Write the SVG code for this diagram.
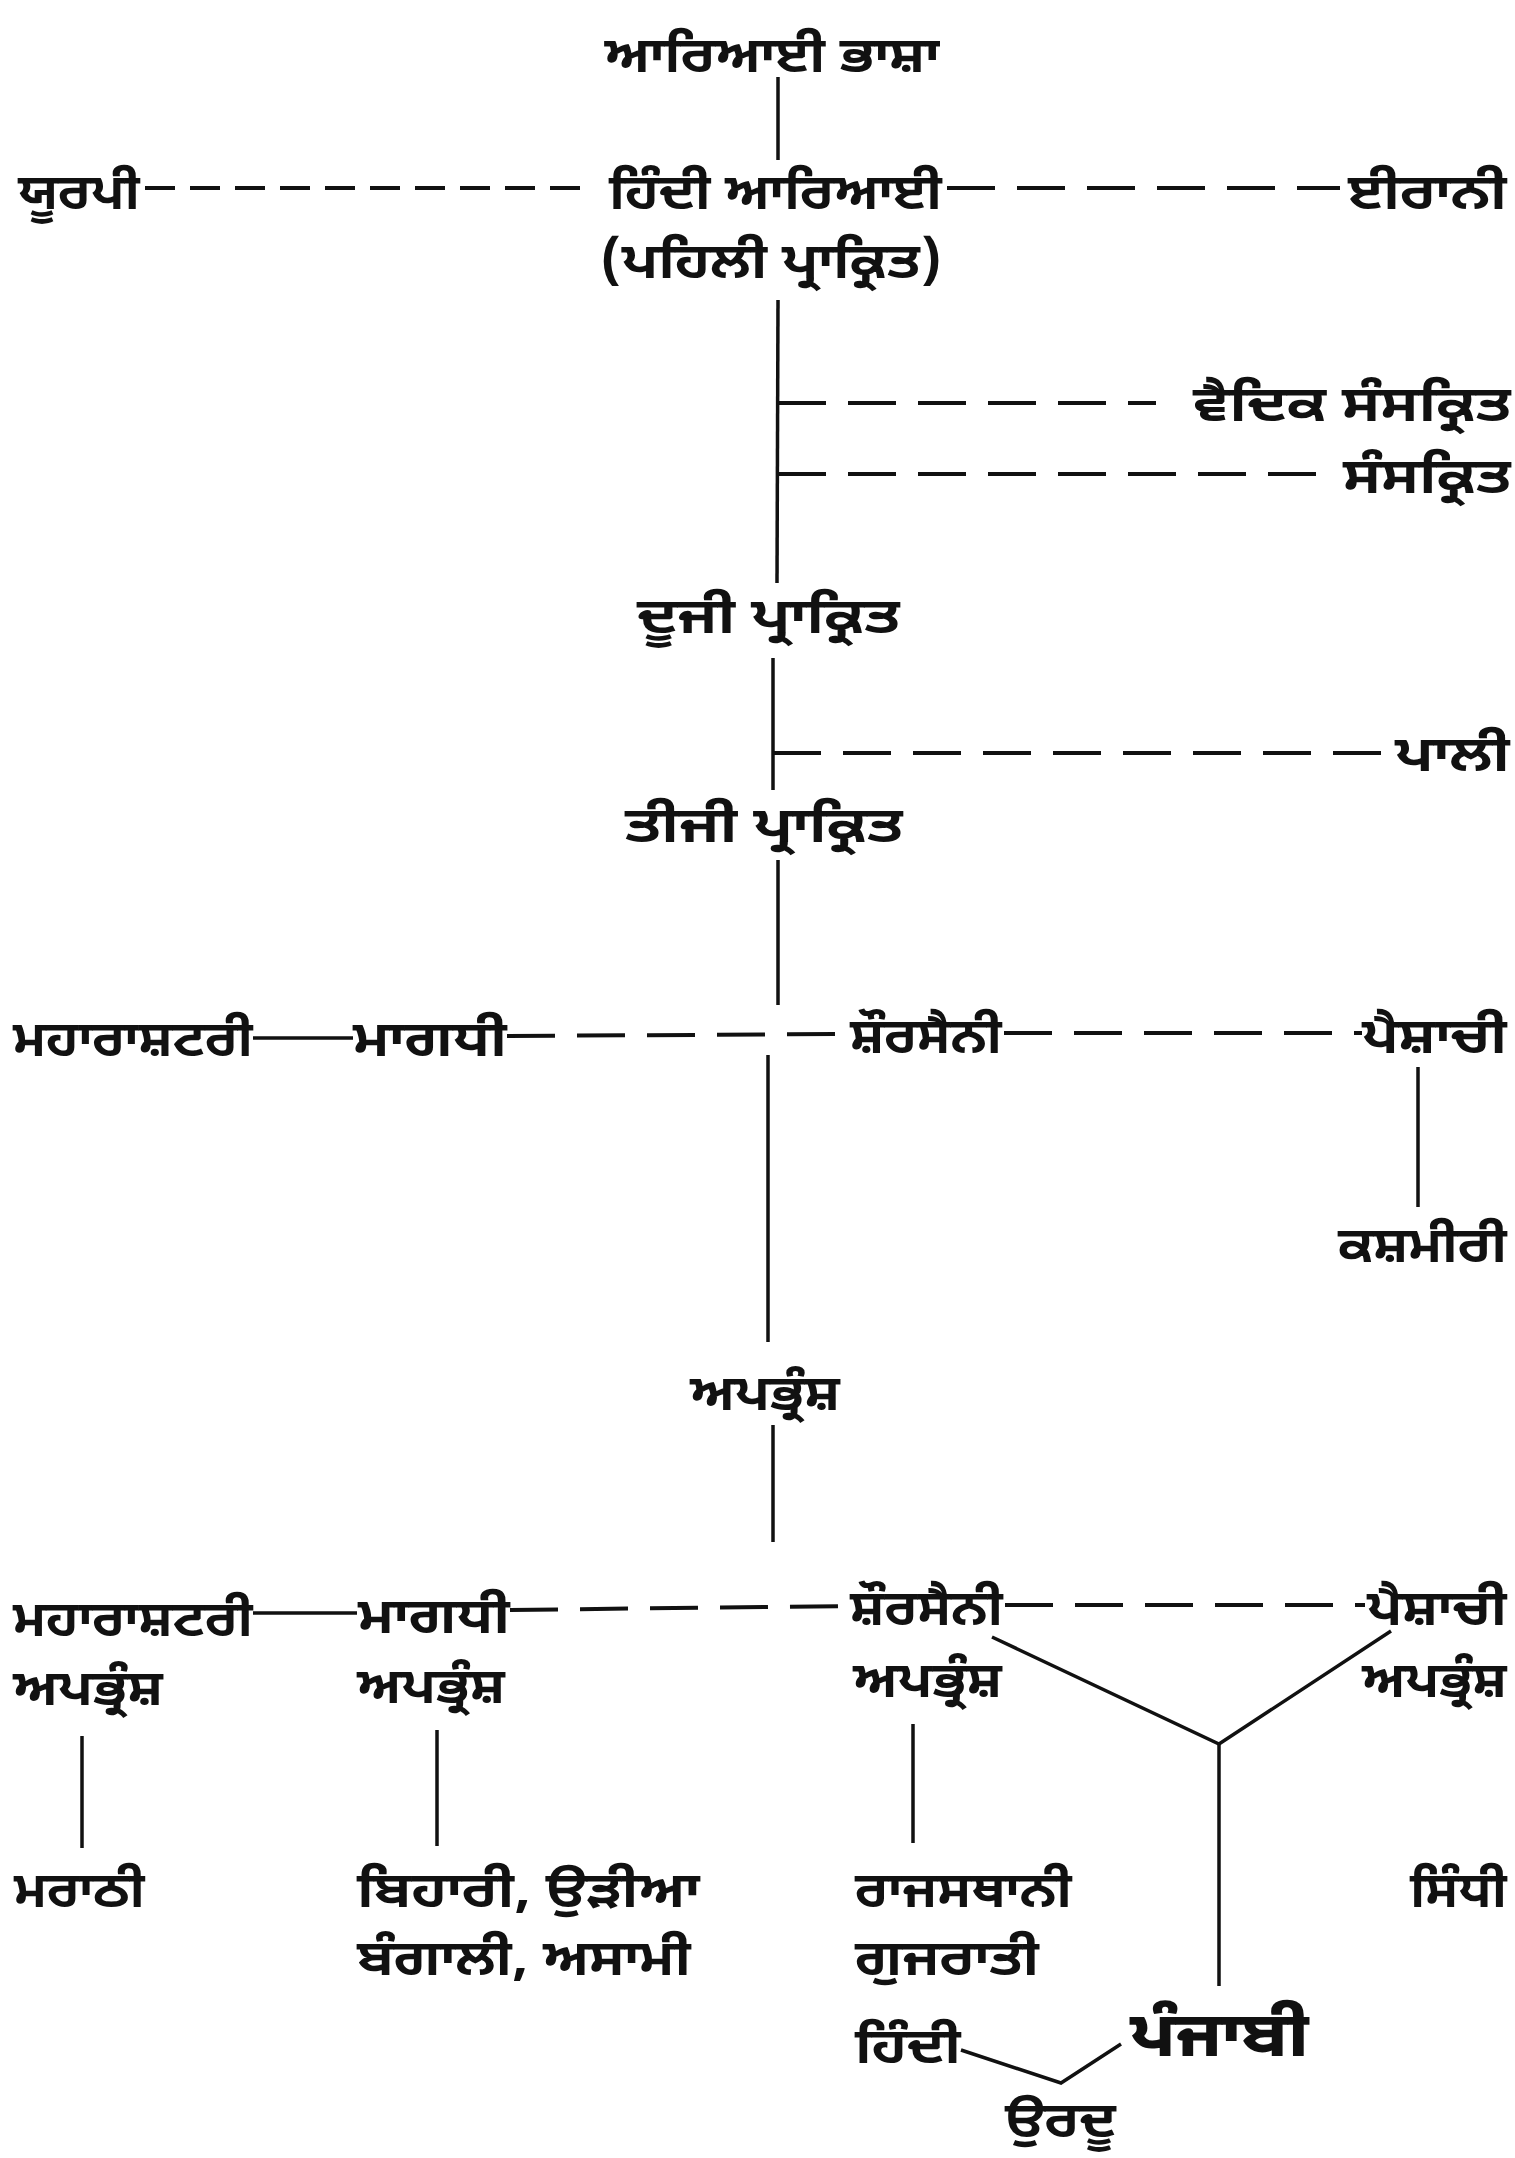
<svg xmlns="http://www.w3.org/2000/svg" width="1515" height="2158" viewBox="0 0 1515 2158">
<style>
text{font-family:"Noto Sans Gurmukhi","Noto Sans",sans-serif;font-size:50px;font-weight:700;fill:#111;dominant-baseline:central}
.m{text-anchor:middle}
.e{text-anchor:end}
.big{font-size:62px;font-weight:800}
.s{stroke:#111;stroke-width:3.5;fill:none}
.d{stroke:#111;stroke-width:4;fill:none;stroke-dasharray:48 22}
.d2{stroke:#111;stroke-width:4;fill:none;stroke-dasharray:30 15}
</style>
<rect width="1515" height="2158" fill="#fff"/>
<g id="connectors">
<line class="s" x1="778" y1="77" x2="778" y2="160"/>
<line class="d2" x1="145" y1="188" x2="592" y2="188"/>
<line class="d" x1="947" y1="188" x2="1340" y2="188"/>
<line class="s" x1="778" y1="300" x2="777" y2="583"/>
<line class="d" x1="778" y1="403" x2="1156" y2="403"/>
<line class="d" x1="778" y1="474" x2="1326" y2="474"/>
<line class="s" x1="773" y1="658" x2="773" y2="790"/>
<line class="d" x1="773" y1="753" x2="1390" y2="753"/>
<line class="s" x1="778" y1="860" x2="778" y2="1005"/>
<line class="s" x1="768" y1="1055" x2="768" y2="1342"/>
<line class="s" x1="253" y1="1038" x2="353" y2="1038"/>
<line class="d" x1="507" y1="1036" x2="850" y2="1034"/>
<line class="d" x1="1004" y1="1033" x2="1362" y2="1033"/>
<line class="s" x1="1418" y1="1067" x2="1418" y2="1207"/>
<line class="s" x1="773" y1="1425" x2="773" y2="1542"/>
<line class="s" x1="253" y1="1613" x2="357" y2="1613"/>
<line class="d" x1="510" y1="1610" x2="850" y2="1606"/>
<line class="d" x1="1005" y1="1605" x2="1365" y2="1605"/>
<line class="s" x1="82" y1="1736" x2="82" y2="1848"/>
<line class="s" x1="437" y1="1730" x2="437" y2="1846"/>
<line class="s" x1="913" y1="1724" x2="913" y2="1843"/>
<polyline class="s" points="992,1637 1219,1744 1391,1631"/>
<line class="s" x1="1219" y1="1744" x2="1219" y2="1986"/>
<polyline class="s" points="961,2050 1061,2083 1121,2044"/>
</g>
<g id="n1"><text class="m" x="772" y="59" textLength="335" lengthAdjust="spacingAndGlyphs">ਆਰਿਆਈ ਭਾਸ਼ਾ</text></g>
<g id="n2"><text x="18" y="196" textLength="122" lengthAdjust="spacingAndGlyphs">ਯੂਰਪੀ</text></g>
<g id="n3"><text x="609" y="196" textLength="333" lengthAdjust="spacingAndGlyphs">ਹਿੰਦੀ ਆਰਿਆਈ</text><text x="600" y="265" textLength="342" lengthAdjust="spacingAndGlyphs">(ਪਹਿਲੀ ਪ੍ਰਾਕ੍ਰਿਤ)</text></g>
<g id="n4"><text x="1348" y="196" textLength="159" lengthAdjust="spacingAndGlyphs">ਈਰਾਨੀ</text></g>
<g id="n5"><text x="1193" y="408" textLength="318" lengthAdjust="spacingAndGlyphs">ਵੈਦਿਕ ਸੰਸਕ੍ਰਿਤ</text></g>
<g id="n6"><text x="1343" y="480" textLength="168" lengthAdjust="spacingAndGlyphs">ਸੰਸਕ੍ਰਿਤ</text></g>
<g id="n7"><text x="637" y="620" textLength="263" lengthAdjust="spacingAndGlyphs">ਦੂਜੀ ਪ੍ਰਾਕ੍ਰਿਤ</text></g>
<g id="n8"><text x="1395" y="758" textLength="115" lengthAdjust="spacingAndGlyphs">ਪਾਲੀ</text></g>
<g id="n9"><text x="625" y="829" textLength="278" lengthAdjust="spacingAndGlyphs">ਤੀਜੀ ਪ੍ਰਾਕ੍ਰਿਤ</text></g>
<g id="n10"><text x="13" y="1043" textLength="240" lengthAdjust="spacingAndGlyphs">ਮਹਾਰਾਸ਼ਟਰੀ</text></g>
<g id="n11"><text x="353" y="1043" textLength="154" lengthAdjust="spacingAndGlyphs">ਮਾਗਧੀ</text></g>
<g id="n12"><text x="850" y="1040" textLength="152" lengthAdjust="spacingAndGlyphs">ਸ਼ੌਰਸੈਨੀ</text></g>
<g id="n13"><text x="1362" y="1040" textLength="145" lengthAdjust="spacingAndGlyphs">ਪੈਸ਼ਾਚੀ</text></g>
<g id="n14"><text x="1338" y="1249" textLength="169" lengthAdjust="spacingAndGlyphs">ਕਸ਼ਮੀਰੀ</text></g>
<g id="n15"><text x="690" y="1397" textLength="150" lengthAdjust="spacingAndGlyphs">ਅਪਭ੍ਰੰਸ਼</text></g>
<g id="n16"><text x="13" y="1623" textLength="240" lengthAdjust="spacingAndGlyphs">ਮਹਾਰਾਸ਼ਟਰੀ</text><text x="13" y="1692" textLength="150" lengthAdjust="spacingAndGlyphs">ਅਪਭ੍ਰੰਸ਼</text></g>
<g id="n17"><text x="358" y="1620" textLength="152" lengthAdjust="spacingAndGlyphs">ਮਾਗਧੀ</text><text x="357" y="1690" textLength="148" lengthAdjust="spacingAndGlyphs">ਅਪਭ੍ਰੰਸ਼</text></g>
<g id="n18"><text x="850" y="1612" textLength="153" lengthAdjust="spacingAndGlyphs">ਸ਼ੌਰਸੈਨੀ</text><text x="853" y="1684" textLength="149" lengthAdjust="spacingAndGlyphs">ਅਪਭ੍ਰੰਸ਼</text></g>
<g id="n19"><text x="1367" y="1612" textLength="140" lengthAdjust="spacingAndGlyphs">ਪੈਸ਼ਾਚੀ</text><text x="1362" y="1684" textLength="145" lengthAdjust="spacingAndGlyphs">ਅਪਭ੍ਰੰਸ਼</text></g>
<g id="n20"><text x="14" y="1894" textLength="131" lengthAdjust="spacingAndGlyphs">ਮਰਾਠੀ</text></g>
<g id="n21"><text x="357" y="1894" textLength="343" lengthAdjust="spacingAndGlyphs">ਬਿਹਾਰੀ, ਉੜੀਆ</text><text x="357" y="1962" textLength="334" lengthAdjust="spacingAndGlyphs">ਬੰਗਾਲੀ, ਅਸਾਮੀ</text></g>
<g id="n22"><text x="855" y="1894" textLength="217" lengthAdjust="spacingAndGlyphs">ਰਾਜਸਥਾਨੀ</text><text x="855" y="1962" textLength="184" lengthAdjust="spacingAndGlyphs">ਗੁਜਰਾਤੀ</text></g>
<g id="n23"><text x="1410" y="1894" textLength="97" lengthAdjust="spacingAndGlyphs">ਸਿੰਧੀ</text></g>
<g id="n24"><text x="855" y="2050" textLength="106" lengthAdjust="spacingAndGlyphs">ਹਿੰਦੀ</text></g>
<g id="n25"><text class="big" x="1130" y="2040" textLength="179" lengthAdjust="spacingAndGlyphs">ਪੰਜਾਬੀ</text></g>
<g id="n26"><text x="1005" y="2124" textLength="111" lengthAdjust="spacingAndGlyphs">ਉਰਦੂ</text></g>
</svg>
